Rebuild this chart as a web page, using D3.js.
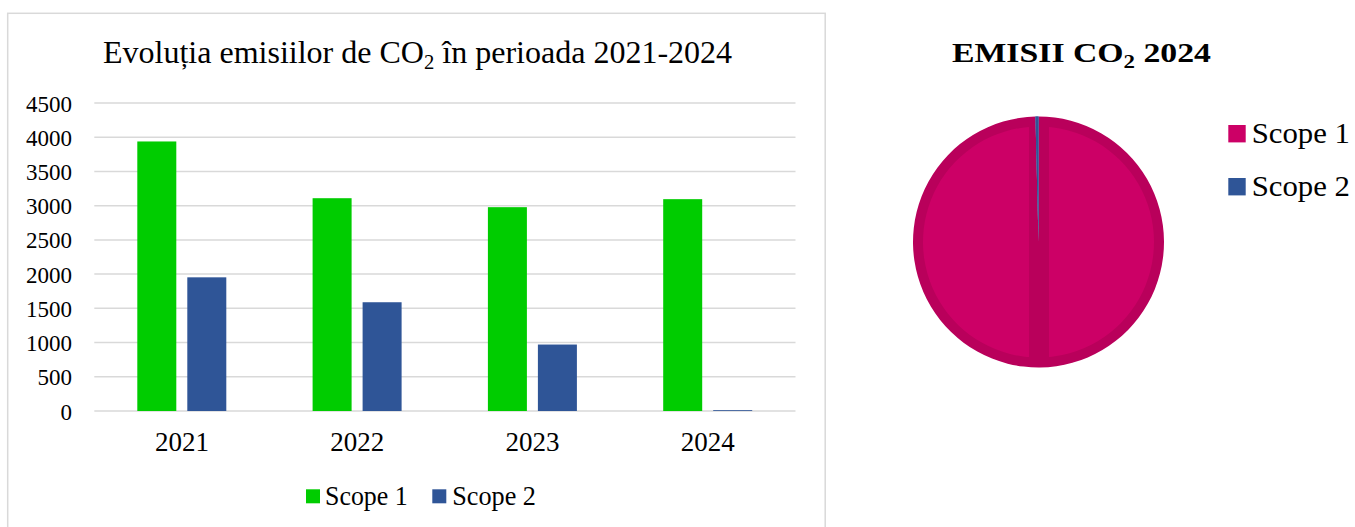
<!DOCTYPE html>
<html>
<head>
<meta charset="utf-8">
<script src="https://cdn.jsdelivr.net/npm/d3@7"></script>
<style>
  html, body { margin: 0; padding: 0; background: #fff; }
  svg { display: block; }
  svg text { font-family: "Liberation Serif", "Times New Roman", serif; }
</style>
</head>
<body>
<svg id="chart" width="1355" height="527"></svg>
<script>
// ---- data ----
const years = ["2021", "2022", "2023", "2024"];
const seriesNames = ["Scope 1", "Scope 2"];
const scope1 = [3938, 3109, 2978, 3095];
const scope2 = [1953, 1589, 971, 12];
const yTicks = [0, 500, 1000, 1500, 2000, 2500, 3000, 3500, 4000, 4500];
const barColors = ["#00cc00", "#2f5597"];
const pieLabels = ["Scope 1", "Scope 2"];
const pieValues = [scope1[3], scope2[3]];
const pieColors = ["#cc0066", "#2f5597"];

const svg = d3.select("#chart");
const SERIF = '"Liberation Serif", "Times New Roman", serif';

function fitX(sel, x0, x1) {
  const bb = sel.node().getBBox();
  const s = (x1 - x0) / bb.width;
  sel.attr("transform", `translate(${x0},0) scale(${s},1) translate(${-bb.x},0)`);
}

// ---- bar chart frame ----
svg.append("rect")
  .attr("x", 7.7).attr("y", 13.3).attr("width", 817.5).attr("height", 540)
  .attr("fill", "none").attr("stroke", "#d9d9d9").attr("stroke-width", 1.5);

// title
const t1 = svg.append("text").attr("x", 0).attr("y", 63.3)
  .style("font-family", SERIF).attr("font-size", 31).attr("fill", "#000");
t1.append("tspan").text("Evoluția emisiilor de CO");
t1.append("tspan").attr("font-size", 20).attr("dy", 6).text("2");
t1.append("tspan").attr("dy", -6).text(" în perioada 2021-2024");
fitX(t1, 103, 733);

const x0 = d3.scaleBand().domain(years).range([94.3, 795.5]).padding(0);
const x1 = d3.scaleBand().domain(seriesNames).range([43, 132]).paddingInner(0.22);
const y = d3.scaleLinear().domain([0, 4500]).range([411, 103]);

// gridlines
svg.append("g").selectAll("line").data(yTicks).join("line")
  .attr("x1", 94.3).attr("x2", 795.5)
  .attr("y1", d => y(d)).attr("y2", d => y(d))
  .attr("stroke", "#d9d9d9").attr("stroke-width", 1.5);

// y tick labels
const yAxis = d3.axisLeft(y).tickValues(yTicks).tickSize(0).tickPadding(0).tickFormat(d3.format("d"));
const ga = svg.append("g").attr("transform", "translate(72,0)").call(yAxis);
ga.attr("font-family", null);
ga.select(".domain").remove();
ga.selectAll("text").style("font-family", SERIF).attr("font-size", 23)
  .attr("fill", "#000").attr("dy", "0.35em");

// bars
const rows = years.map((yr, i) => ({ year: yr, vals: [scope1[i], scope2[i]] }));
const groups = svg.append("g").selectAll("g").data(rows).join("g")
  .attr("transform", d => `translate(${x0(d.year)},0)`);
groups.selectAll("rect").data(d => d.vals.map((v, j) => ({ s: seriesNames[j], v, j })))
  .join("rect")
  .attr("x", d => x1(d.s)).attr("width", x1.bandwidth())
  .attr("y", d => y(d.v)).attr("height", d => y(0) - y(d.v))
  .attr("fill", d => barColors[d.j]);

// x labels
const xAxis = d3.axisBottom(x0).tickSize(0).tickPadding(0);
const gx = svg.append("g").attr("transform", "translate(0,432)").call(xAxis);
gx.attr("font-family", null);
gx.select(".domain").remove();
gx.selectAll("text").style("font-family", SERIF).attr("font-size", 27)
  .attr("fill", "#000").attr("dy", "0.71em");

// bottom legend
const legPos = [{ sq: 306, tx: 325, end: 407.7 }, { sq: 432.3, tx: 452.3, end: 536 }];
seriesNames.forEach((s, i) => {
  svg.append("rect").attr("x", legPos[i].sq).attr("y", 489.3).attr("width", 14).attr("height", 14)
    .attr("fill", barColors[i]);
  const t = svg.append("text").attr("x", 0).attr("y", 505).style("font-family", SERIF)
    .attr("font-size", 27).attr("fill", "#000").text(s);
  fitX(t, legPos[i].tx, legPos[i].end);
});

// ---- pie chart ----
const cx = 1038.5, cy = 242, r = 125.5, ring = 10, strip = 10;
const t2 = svg.append("text").attr("x", 0).attr("y", 62).style("font-family", SERIF)
  .attr("font-size", 28).attr("font-weight", "bold").attr("fill", "#000");
t2.append("tspan").text("EMISII CO");
t2.append("tspan").attr("font-size", 19).attr("dy", 6).text("2");
t2.append("tspan").attr("dy", -6).text(" 2024");
fitX(t2, 952, 1211);

const pie = d3.pie().sort(null).value(d => d)(pieValues);
const defs = svg.append("defs");
defs.append("clipPath").attr("id", "clipR").append("rect")
  .attr("x", strip + 0.5).attr("y", -r).attr("width", r).attr("height", 2 * r);
defs.append("clipPath").attr("id", "clipL").append("rect")
  .attr("x", -r).attr("y", -r).attr("width", r - strip + 0.5).attr("height", 2 * r);

const pg = svg.append("g").attr("transform", `translate(${cx},${cy})`);
const arcOuter = d3.arc().innerRadius(0).outerRadius(r);
const darker = ["#b9005b", "#2f5597"];
// slice base (bevel edge colour)
pg.selectAll("path.slice").data(pie).join("path").attr("class", "slice")
  .attr("d", arcOuter).attr("fill", (d, i) => darker[i]);

// bevel faces of the large slice
const faceArc = d3.arc().innerRadius(0).outerRadius(r - ring);
["clipR", "clipL"].forEach(id => {
  pg.append("path").datum(pie[0]).attr("d", faceArc)
    .attr("clip-path", `url(#${id})`).attr("fill", pieColors[0]);
});

// small slice on top
pg.append("path").datum(pie[1]).attr("d", arcOuter).attr("fill", pieColors[1]);

// right legend
const rlY = [125, 178];
pieLabels.forEach((s, i) => {
  svg.append("rect").attr("x", 1228.3).attr("y", rlY[i]).attr("width", 17.4).attr("height", 17.4)
    .attr("fill", pieColors[i]);
  const t = svg.append("text").attr("x", 0).attr("y", rlY[i] + 18.3).style("font-family", SERIF)
    .attr("font-size", 29).attr("fill", "#000").text(s);
  fitX(t, 1251.7, 1350);
});
</script>
</body>
</html>
